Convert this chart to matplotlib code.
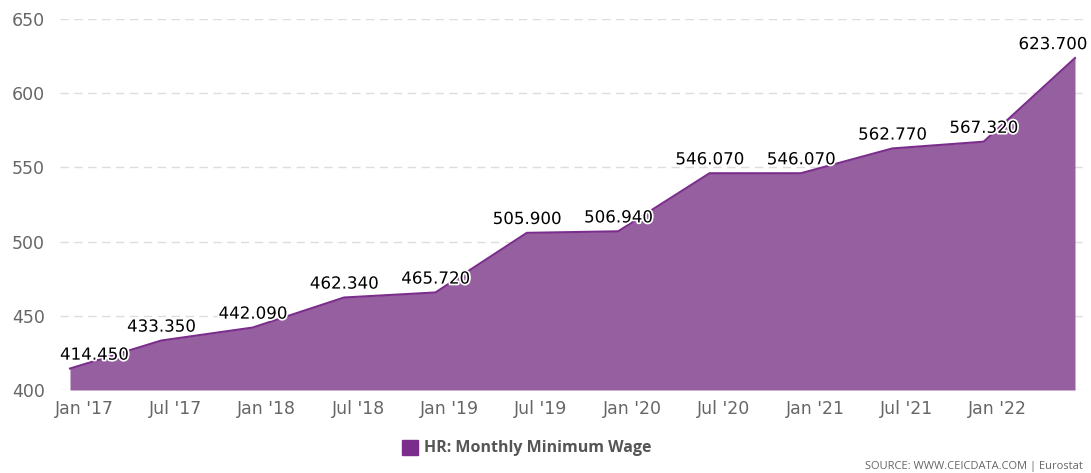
import matplotlib
matplotlib.use("Agg")
import matplotlib.pyplot as plt
from matplotlib import patheffects as pe
from matplotlib.patches import Rectangle
from matplotlib.transforms import ScaledTranslation

periods = ["Jan '17", "Jul '17", "Jan '18", "Jul '18", "Jan '19", "Jul '19",
           "Jan '20", "Jul '20", "Jan '21", "Jul '21", "Jan '22", "Jul '22"]
values = [414.450, 433.350, 442.090, 462.340, 465.720, 505.900,
          506.940, 546.070, 546.070, 562.770, 567.320, 623.700]
tick_labels = periods[:-1]
yticks = [400, 450, 500, 550, 600, 650]

W, H = 1091, 473
fig = plt.figure(figsize=(W / 100, H / 100), dpi=100)
ax = fig.add_axes([60 / W, 1 - 390 / H, (1087 - 60) / W, (390 - 19) / H])

x = list(range(len(values)))
fill_col = "#9660A0"
line_col = "#7B2D8B"
ax.fill_between(x, values, 400, color=fill_col, lw=0, zorder=2)
ax.plot(x, values, color=line_col, lw=1.5, zorder=3)

step_px = (1075 - 70) / 11
ax.set_xlim(-10 / step_px, 11 + 12 / step_px)
ax.set_ylim(400, 650)

ax.set_yticks(yticks)
ax.set_yticklabels([str(v) for v in yticks])
ax.grid(axis="y", color="#dddddd", ls=(0, (6, 4)), lw=1, zorder=1)
ax.set_axisbelow(True)
for s in ax.spines.values():
    s.set_visible(False)
ax.tick_params(axis="y", length=0, pad=11, labelsize=12.5, labelcolor="#666666")

ax.set_xticks(x[:-1])
ax.set_xticklabels(tick_labels)
ax.tick_params(axis="x", length=0, pad=7, labelsize=12.5, labelcolor="#666666")
offset = ScaledTranslation(14 / 100, 0, fig.dpi_scale_trans)
for lab in ax.get_xticklabels():
    lab.set_transform(lab.get_transform() + offset)

stroke = [pe.withStroke(linewidth=2.5, foreground="white")]
n = len(values)
for i, v in enumerate(values):
    ha = "center"
    dx = 0
    if i == 0:
        ha, dx = "left", -10
    elif i == n - 1:
        ha, dx = "right", 12
    ax.annotate(f"{v:.3f}", (i, v), xytext=(dx * 0.72, 10), textcoords="offset points",
                ha=ha, va="center", fontsize=12, color="black",
                path_effects=stroke, zorder=5)

# legend
fig.patches.append(Rectangle((402 / W, 1 - 455 / H), 16 / W, 15 / H,
                             transform=fig.transFigure, color=line_col))
fig.text(424 / W, 1 - 447.5 / H, "HR: Monthly Minimum Wage", ha="left", va="center",
         fontsize=11.5, fontweight="bold", color="#555555", family="Open Sans")
fig.text(1083 / W, 1 - 466 / H, "SOURCE: WWW.CEICDATA.COM | Eurostat", ha="right",
         va="center", fontsize=8, color="#666666", family="Open Sans")

fig.savefig("out.png", dpi=100)
